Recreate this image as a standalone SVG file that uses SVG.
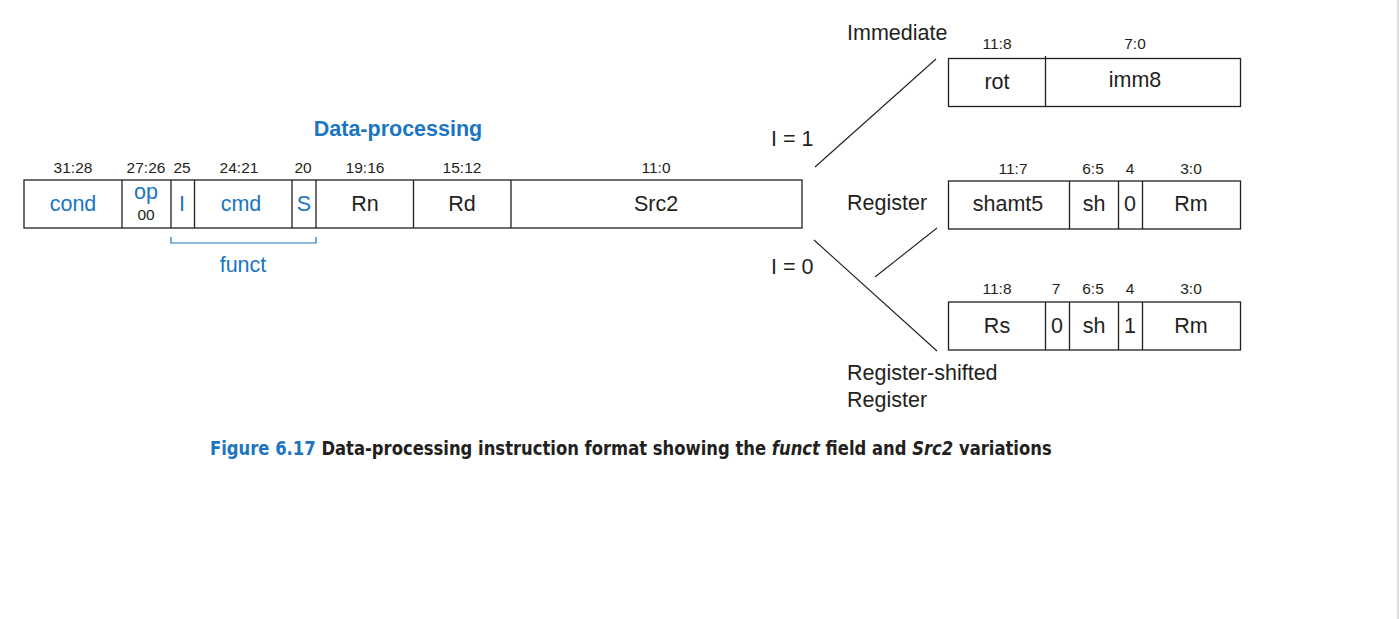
<svg xmlns="http://www.w3.org/2000/svg" width="1399" height="619" viewBox="0 0 1399 619">
<style>
.box{fill:#fff;stroke:#231f20;stroke-width:1.3}
.dv{stroke:#231f20;stroke-width:1.3}
.bit{font-family:"Liberation Sans",Arial,sans-serif;font-size:15.5px;fill:#231f20;text-anchor:middle}
.fld{font-family:"Liberation Sans",Arial,sans-serif;font-size:21.5px;fill:#231f20;text-anchor:middle}
.blue{fill:#1a75c2}
.lbl{font-family:"Liberation Sans",Arial,sans-serif;font-size:21.5px;fill:#231f20}
.con{stroke:#231f20;stroke-width:1.1;fill:none}
.cap{font-family:"Liberation Sans Narrow","DejaVu Sans Condensed","Liberation Sans",sans-serif;font-size:20px;font-weight:bold;fill:#231f20}
</style>
<rect width="1399" height="619" fill="#fff"/>
<line x1="1398" y1="0" x2="1398" y2="619" stroke="#bdbdbd" stroke-width="1"/>

<text x="398" y="136" font-family="Liberation Sans,Arial,sans-serif" font-size="21.5" font-weight="bold" fill="#1a75c2" text-anchor="middle">Data-processing</text>

<g id="main">
<rect class="box" x="24" y="180" width="778" height="48"/>
<line class="dv" x1="122" y1="180" x2="122" y2="228"/>
<line class="dv" x1="171" y1="180" x2="171" y2="228"/>
<line class="dv" x1="194.5" y1="180" x2="194.5" y2="228"/>
<line class="dv" x1="292" y1="180" x2="292" y2="228"/>
<line class="dv" x1="316" y1="180" x2="316" y2="228"/>
<line class="dv" x1="413.5" y1="180" x2="413.5" y2="228"/>
<line class="dv" x1="511" y1="180" x2="511" y2="228"/>
<text class="bit" x="73" y="173">31:28</text>
<text class="bit" x="146" y="173">27:26</text>
<text class="bit" x="182" y="173">25</text>
<text class="bit" x="239" y="173">24:21</text>
<text class="bit" x="303" y="173">20</text>
<text class="bit" x="365" y="173">19:16</text>
<text class="bit" x="462" y="173">15:12</text>
<text class="bit" x="656" y="173">11:0</text>
<text class="fld blue" x="73" y="211">cond</text>
<text class="fld blue" x="146" y="199" font-size="19.5">op</text>
<text class="bit" x="146" y="220" font-size="14">00</text>
<text class="fld blue" x="182" y="211">I</text>
<text class="fld blue" x="241" y="211">cmd</text>
<text class="fld blue" x="304" y="211">S</text>
<text class="fld" x="365" y="211">Rn</text>
<text class="fld" x="462" y="211">Rd</text>
<text class="fld" x="656" y="211">Src2</text>
</g>

<g id="funct">
<path d="M171 237 V243 H316 V237" fill="none" stroke="#1a75c2" stroke-width="1.2"/>
<text class="fld blue" x="243" y="272">funct</text>
</g>

<g id="immediate">
<text class="lbl" x="847" y="40">Immediate</text>
<rect class="box" x="948.5" y="58.5" width="292" height="48"/>
<line class="dv" x1="1045.5" y1="56" x2="1045.5" y2="106.5"/>
<text class="bit" x="997" y="49">11:8</text>
<text class="bit" x="1135" y="49">7:0</text>
<text class="fld" x="997" y="89">rot</text>
<text class="fld" x="1135" y="87">imm8</text>
</g>

<g id="register">
<text class="lbl" x="847" y="210">Register</text>
<rect class="box" x="948.5" y="181" width="292" height="48"/>
<line class="dv" x1="1069.5" y1="181" x2="1069.5" y2="229"/>
<line class="dv" x1="1118.5" y1="181" x2="1118.5" y2="229"/>
<line class="dv" x1="1142.5" y1="181" x2="1142.5" y2="229"/>
<text class="bit" x="1013" y="174">11:7</text>
<text class="bit" x="1093" y="174">6:5</text>
<text class="bit" x="1130" y="174">4</text>
<text class="bit" x="1191" y="174">3:0</text>
<text class="fld" x="1008" y="211">shamt5</text>
<text class="fld" x="1094" y="211">sh</text>
<text class="fld" x="1130" y="211">0</text>
<text class="fld" x="1191" y="211">Rm</text>
</g>

<g id="register-shifted">
<text class="lbl" x="847" y="380">Register-shifted</text>
<text class="lbl" x="847" y="407">Register</text>
<rect class="box" x="948.5" y="302" width="292" height="48"/>
<line class="dv" x1="1045.5" y1="302" x2="1045.5" y2="350"/>
<line class="dv" x1="1069.5" y1="302" x2="1069.5" y2="350"/>
<line class="dv" x1="1118.5" y1="302" x2="1118.5" y2="350"/>
<line class="dv" x1="1142.5" y1="302" x2="1142.5" y2="350"/>
<text class="bit" x="997" y="294">11:8</text>
<text class="bit" x="1056" y="294">7</text>
<text class="bit" x="1093" y="294">6:5</text>
<text class="bit" x="1130" y="294">4</text>
<text class="bit" x="1191" y="294">3:0</text>
<text class="fld" x="997" y="333">Rs</text>
<text class="fld" x="1057" y="333">0</text>
<text class="fld" x="1094" y="333">sh</text>
<text class="fld" x="1130" y="333">1</text>
<text class="fld" x="1191" y="333">Rm</text>
</g>

<g id="connectors">
<line class="con" x1="815" y1="167" x2="936" y2="59"/>
<line class="con" x1="875" y1="277" x2="937" y2="228"/>
<line class="con" x1="814" y1="240" x2="937" y2="351"/>
<text class="lbl" x="771" y="146">I = 1</text>
<text class="lbl" x="771" y="274">I = 0</text>
</g>

<g transform="translate(210 455) scale(0.913 1)">
<text class="cap" x="0" y="0"><tspan fill="#1a75c2">Figure 6.17</tspan>  Data-processing instruction format showing the <tspan font-style="italic">funct</tspan> field and <tspan font-style="italic">Src2</tspan> variations</text>
</g>
</svg>
